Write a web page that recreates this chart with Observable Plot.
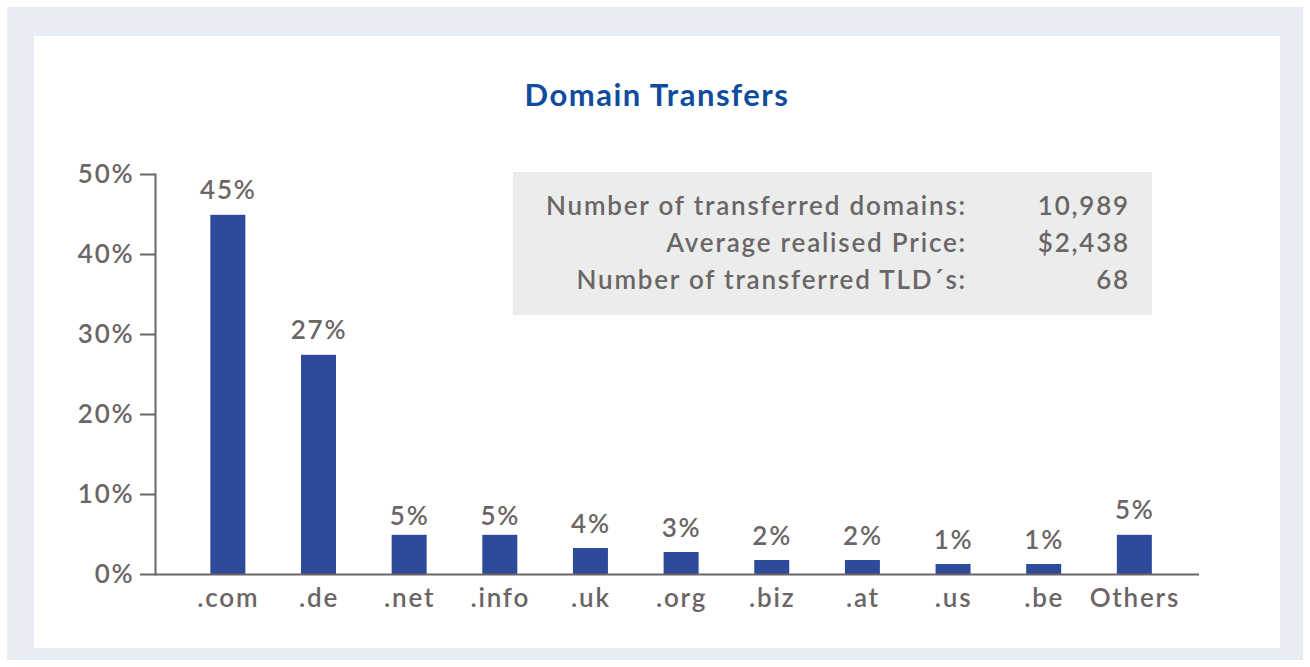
<!DOCTYPE html>
<html>
<head>
<meta charset="utf-8">
<script src="https://cdn.jsdelivr.net/npm/d3@7"></script>
<script src="https://cdn.jsdelivr.net/npm/@observablehq/plot@0.6"></script>
<style>
  html, body { margin: 0; padding: 0; background: #ffffff; }
  body { width: 1310px; height: 667px; position: relative; overflow: hidden; font-family: Lato, "Noto Sans", sans-serif; }
  #outer { position: absolute; left: 7px; top: 7px; width: 1296px; height: 653px; background: #e8edf5; }
  #panel { position: absolute; left: 34px; top: 36px; width: 1246px; height: 612px; background: #ffffff; }
  #title { position: absolute; left: 34px; width: 1246px; top: 76px; text-align: center; font-size: 31px; font-weight: 700; letter-spacing: 1.5px; color: #0f4c9e; line-height: 36px; }
  #stats { position: absolute; left: 513px; top: 172px; width: 639px; height: 143px; background: #ebecec; color: #6b6566; font-size: 26px; font-weight: 600; letter-spacing: 1.8px; }
  #stats .row { position: absolute; left: 0; width: 639px; height: 37px; line-height: 37px; }
  #stats .lab { position: absolute; right: 185px; white-space: nowrap; }
  #stats .val { position: absolute; right: 22px; white-space: nowrap; }
  #chart { position: absolute; left: 0; top: 0; }
</style>
</head>
<body>
<div id="outer"></div>
<div id="panel"></div>
<div id="title"></div>
<div id="stats"></div>
<div id="chart"></div>
<script>
// ---- data ----
const titleText = "Domain Transfers";
const tlds = [".com", ".de", ".net", ".info", ".uk", ".org", ".biz", ".at", ".us", ".be", "Others"];
const shares = [44.9, 27.4, 4.9, 4.9, 3.25, 2.75, 1.75, 1.75, 1.25, 1.25, 4.9];
const shareLabels = ["45%", "27%", "5%", "5%", "4%", "3%", "2%", "2%", "1%", "1%", "5%"];
const yTicks = [0, 10, 20, 30, 40, 50];
const statLabels = ["Number of transferred domains:", "Average realised Price:", "Number of transferred TLD´s:"];
const statValues = ["10,989", "$2,438", "68"];

// ---- build ----
document.getElementById("title").textContent = titleText;
const stats = document.getElementById("stats");
statLabels.forEach((l, i) => {
  const row = document.createElement("div");
  row.className = "row";
  row.style.top = (15 + i * 37) + "px";
  const a = document.createElement("span"); a.className = "lab"; a.textContent = l;
  const b = document.createElement("span"); b.className = "val"; b.textContent = statValues[i];
  row.appendChild(a); row.appendChild(b);
  stats.appendChild(row);
});

const data = tlds.map((t, i) => ({tld: t, share: shares[i], label: shareLabels[i]}));
const low = new Set([".net", ".info"]);
const axisColor = "#6b6566";

const chart = Plot.plot({
  width: 1310,
  height: 667,
  marginLeft: 155,
  marginRight: 111,
  marginTop: 174,
  marginBottom: 93,
  style: {background: "transparent", color: axisColor, fontFamily: "Lato, 'Noto Sans', sans-serif", fontSize: "26px", fontWeight: 600, letterSpacing: "1.8px", overflow: "visible"},
  x: {domain: tlds, paddingInner: 0.614, paddingOuter: 0.5655, align: 0.54, round: false, label: null},
  y: {domain: [0, 50], label: null},
  marks: [
    Plot.barY(data, {x: "tld", y: "share", fill: "#2e4a9a"}),
    Plot.ruleY([0], {stroke: axisColor, strokeWidth: 2}),
    Plot.frame({anchor: "left", stroke: axisColor, strokeWidth: 2}),
    Plot.axisY({ticks: yTicks, tickFormat: d => d + "%", tickSize: 15, tickPadding: 6, strokeWidth: 2, stroke: axisColor, fontSize: 26, label: null}),
    Plot.axisX({tickSize: 0, tickPadding: 14, fontSize: 26, label: null}),
    Plot.text(data.filter(d => !low.has(d.tld)), {x: "tld", y: "share", text: "label", lineAnchor: "bottom", dy: -16, fontSize: 26, fill: axisColor}),
    Plot.text(data.filter(d => low.has(d.tld)), {x: "tld", y: "share", text: "label", lineAnchor: "bottom", dy: -10, fontSize: 26, fill: axisColor})
  ]
});
document.getElementById("chart").appendChild(chart);
</script>
</body>
</html>
